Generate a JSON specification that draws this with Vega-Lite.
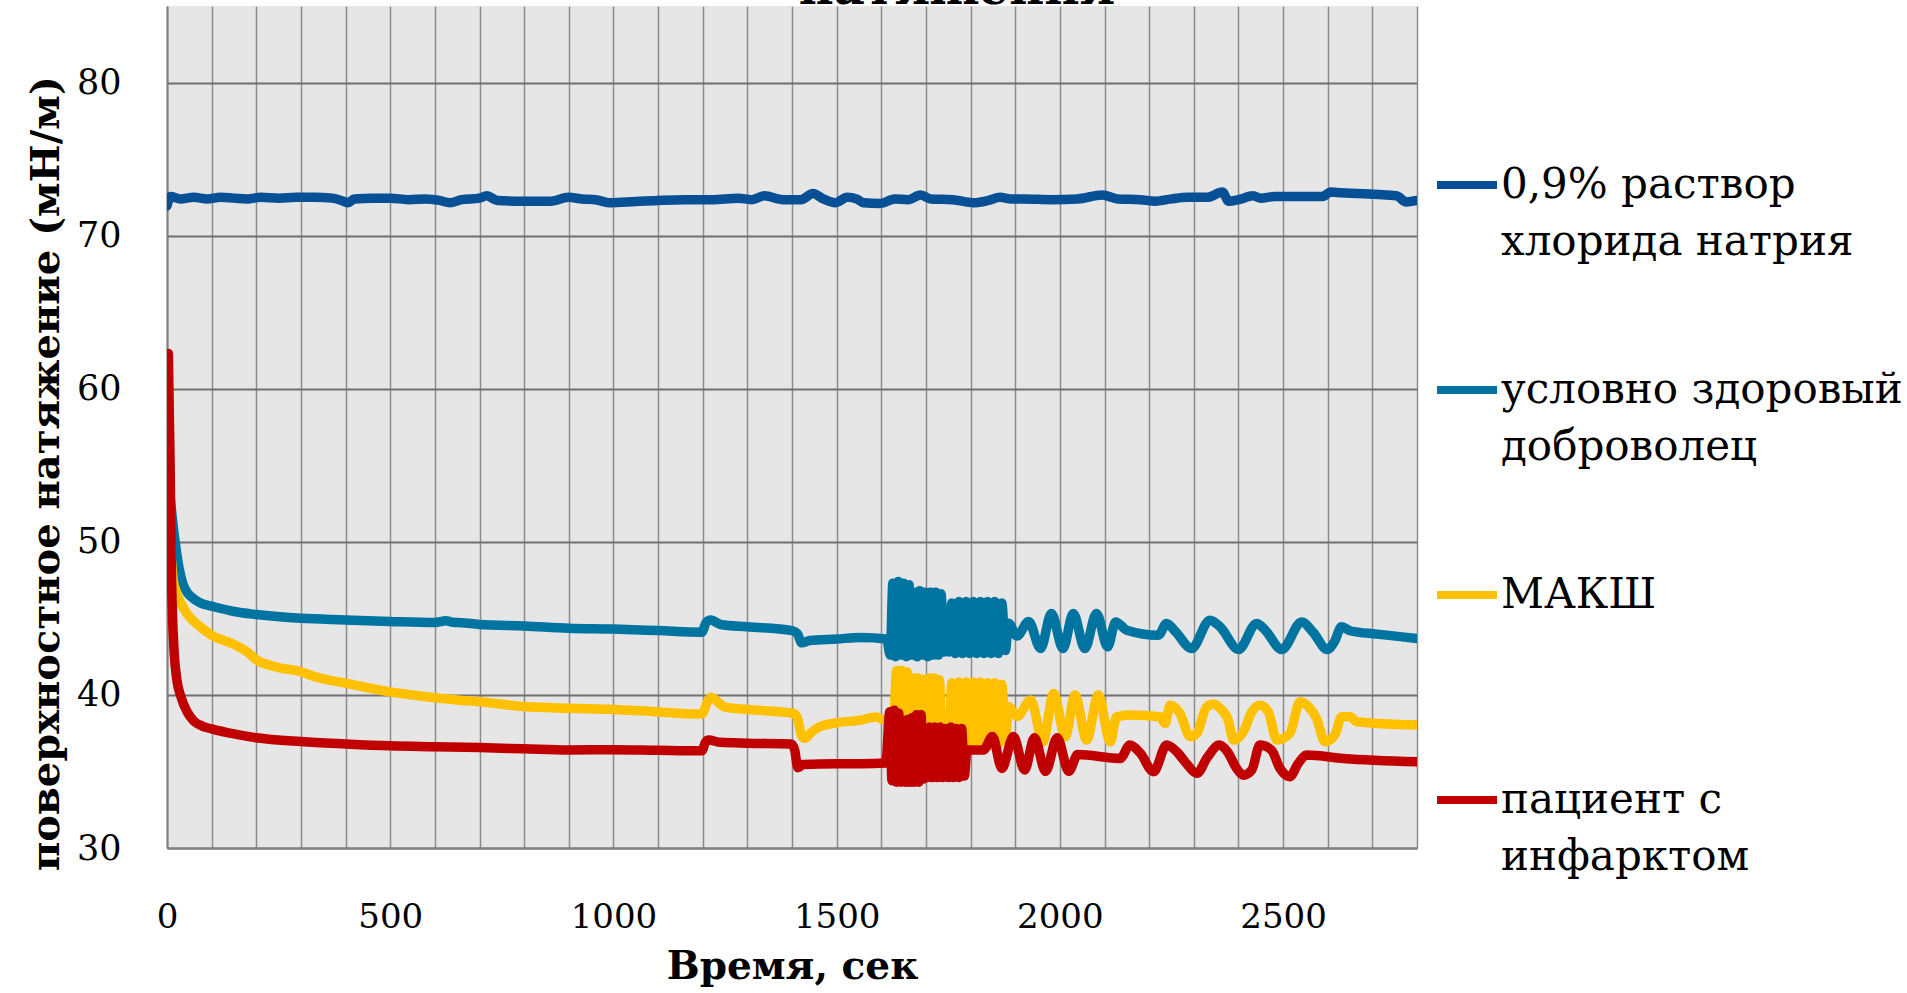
{
  "$schema": "https://vega.github.io/schema/vega-lite/v6.json",
  "width": 1250,
  "height": 842,
  "autosize": {"type": "none"},
  "padding": {"left": 167, "top": 6, "right": 490, "bottom": 145},
  "background": "white",
  "title": {"text": "натяжения", "font": "DejaVu Serif", "fontSize": 48, "fontWeight": "bold", "color": "black", "anchor": "middle", "frame": "group", "dx": 165, "offset": -8},
  "config": {
    "view": {"fill": "#E6E6E6", "stroke": null},
    "font": "DejaVu Serif",
    "style": {"guide-label": {"lineHeight": 57}}
  },
  "data": {"values": [
    {"s":"NaCl","t":0,"v":71.95},{"s":"NaCl","t":8,"v":72.55},{"s":"NaCl","t":30,"v":72.4},{"s":"NaCl","t":60,"v":72.5},{"s":"NaCl","t":90,"v":72.4},{"s":"NaCl","t":120,"v":72.5},{"s":"NaCl","t":150,"v":72.45},{"s":"NaCl","t":180,"v":72.4},{"s":"NaCl","t":210,"v":72.5},{"s":"NaCl","t":250,"v":72.45},{"s":"NaCl","t":290,"v":72.5},{"s":"NaCl","t":330,"v":72.5},{"s":"NaCl","t":370,"v":72.45},{"s":"NaCl","t":395,"v":72.25},{"s":"NaCl","t":405,"v":72.15},{"s":"NaCl","t":420,"v":72.4},{"s":"NaCl","t":460,"v":72.45},{"s":"NaCl","t":500,"v":72.45},{"s":"NaCl","t":540,"v":72.35},{"s":"NaCl","t":580,"v":72.4},{"s":"NaCl","t":610,"v":72.3},{"s":"NaCl","t":634,"v":72.15},{"s":"NaCl","t":660,"v":72.35},{"s":"NaCl","t":700,"v":72.45},{"s":"NaCl","t":716,"v":72.6},{"s":"NaCl","t":740,"v":72.3},{"s":"NaCl","t":800,"v":72.25},{"s":"NaCl","t":860,"v":72.25},{"s":"NaCl","t":899,"v":72.5},{"s":"NaCl","t":930,"v":72.4},{"s":"NaCl","t":960,"v":72.35},{"s":"NaCl","t":990,"v":72.15},{"s":"NaCl","t":1030,"v":72.2},{"s":"NaCl","t":1100,"v":72.3},{"s":"NaCl","t":1160,"v":72.35},{"s":"NaCl","t":1220,"v":72.35},{"s":"NaCl","t":1280,"v":72.45},{"s":"NaCl","t":1310,"v":72.35},{"s":"NaCl","t":1338,"v":72.6},{"s":"NaCl","t":1380,"v":72.35},{"s":"NaCl","t":1420,"v":72.35},{"s":"NaCl","t":1447,"v":72.75},{"s":"NaCl","t":1470,"v":72.4},{"s":"NaCl","t":1497,"v":72.15},{"s":"NaCl","t":1524,"v":72.5},{"s":"NaCl","t":1545,"v":72.4},{"s":"NaCl","t":1560,"v":72.15},{"s":"NaCl","t":1597,"v":72.1},{"s":"NaCl","t":1630,"v":72.4},{"s":"NaCl","t":1660,"v":72.35},{"s":"NaCl","t":1688,"v":72.65},{"s":"NaCl","t":1710,"v":72.4},{"s":"NaCl","t":1760,"v":72.35},{"s":"NaCl","t":1807,"v":72.15},{"s":"NaCl","t":1840,"v":72.3},{"s":"NaCl","t":1866,"v":72.5},{"s":"NaCl","t":1890,"v":72.4},{"s":"NaCl","t":1921,"v":72.4},{"s":"NaCl","t":1980,"v":72.35},{"s":"NaCl","t":2040,"v":72.4},{"s":"NaCl","t":2095,"v":72.65},{"s":"NaCl","t":2130,"v":72.4},{"s":"NaCl","t":2180,"v":72.35},{"s":"NaCl","t":2214,"v":72.25},{"s":"NaCl","t":2250,"v":72.4},{"s":"NaCl","t":2287,"v":72.5},{"s":"NaCl","t":2330,"v":72.5},{"s":"NaCl","t":2364,"v":72.85},{"s":"NaCl","t":2378,"v":72.25},{"s":"NaCl","t":2400,"v":72.35},{"s":"NaCl","t":2433,"v":72.6},{"s":"NaCl","t":2450,"v":72.45},{"s":"NaCl","t":2480,"v":72.55},{"s":"NaCl","t":2588,"v":72.55},{"s":"NaCl","t":2607,"v":72.85},{"s":"NaCl","t":2630,"v":72.8},{"s":"NaCl","t":2754,"v":72.6},{"s":"NaCl","t":2776,"v":72.2},{"s":"NaCl","t":2800,"v":72.3},

    {"s":"доброволец","t":0,"v":56},{"s":"доброволец","t":7,"v":53},{"s":"доброволец","t":14,"v":51},{"s":"доброволец","t":20,"v":49.6},{"s":"доброволец","t":27,"v":48.3},{"s":"доброволец","t":35,"v":47.3},{"s":"доброволец","t":45,"v":46.7},{"s":"доброволец","t":55,"v":46.4},{"s":"доброволец","t":75,"v":46.0},{"s":"доброволец","t":100,"v":45.8},{"s":"доброволец","t":150,"v":45.45},{"s":"доброволец","t":200,"v":45.25},{"s":"доброволец","t":300,"v":45.0},{"s":"доброволец","t":400,"v":44.9},{"s":"доброволец","t":500,"v":44.8},{"s":"доброволец","t":600,"v":44.73},{"s":"доброволец","t":625,"v":44.85},{"s":"доброволец","t":640,"v":44.75},{"s":"доброволец","t":660,"v":44.72},{"s":"доброволец","t":700,"v":44.6},{"s":"доброволец","t":800,"v":44.5},{"s":"доброволец","t":900,"v":44.36},{"s":"доброволец","t":1000,"v":44.3},{"s":"доброволец","t":1100,"v":44.2},{"s":"доброволец","t":1198,"v":44.1},{"s":"доброволец","t":1208,"v":44.75},{"s":"доброволец","t":1218,"v":44.9},{"s":"доброволец","t":1240,"v":44.6},{"s":"доброволец","t":1300,"v":44.45},{"s":"доброволец","t":1400,"v":44.2},{"s":"доброволец","t":1412,"v":44.0},{"s":"доброволец","t":1422,"v":43.4},{"s":"доброволец","t":1440,"v":43.55},{"s":"доброволец","t":1500,"v":43.65},{"s":"доброволец","t":1554,"v":43.75},{"s":"доброволец","t":1612,"v":43.65},
    {"s":"доброволец","t":1620,"v":42.6},{"s":"доброволец","t":1626,"v":47.3},{"s":"доброволец","t":1632,"v":42.5},{"s":"доброволец","t":1638,"v":47.4},{"s":"доброволец","t":1644,"v":42.6},{"s":"доброволец","t":1650,"v":47.3},{"s":"доброволец","t":1656,"v":42.5},{"s":"доброволец","t":1662,"v":47.2},{"s":"доброволец","t":1668,"v":42.6},{"s":"доброволец","t":1674,"v":46.7},{"s":"доброволец","t":1680,"v":42.5},{"s":"доброволец","t":1686,"v":46.8},{"s":"доброволец","t":1692,"v":42.6},{"s":"доброволец","t":1698,"v":46.7},{"s":"доброволец","t":1704,"v":42.5},{"s":"доброволец","t":1710,"v":46.7},{"s":"доброволец","t":1716,"v":42.6},{"s":"доброволец","t":1722,"v":46.7},{"s":"доброволец","t":1728,"v":42.6},{"s":"доброволец","t":1734,"v":46.6},{"s":"доброволец","t":1740,"v":42.8},{"s":"доброволец","t":1746,"v":44.3},{"s":"доброволец","t":1752,"v":42.8},{"s":"доброволец","t":1758,"v":46.0},{"s":"доброволец","t":1766,"v":42.7},{"s":"доброволец","t":1774,"v":46.1},{"s":"доброволец","t":1782,"v":42.7},{"s":"доброволец","t":1790,"v":46.1},{"s":"доброволец","t":1798,"v":42.7},{"s":"доброволец","t":1806,"v":46.1},{"s":"доброволец","t":1814,"v":42.7},{"s":"доброволец","t":1822,"v":46.1},{"s":"доброволец","t":1830,"v":42.7},{"s":"доброволец","t":1838,"v":46.1},{"s":"доброволец","t":1846,"v":42.7},{"s":"доброволец","t":1854,"v":46.1},{"s":"доброволец","t":1862,"v":42.7},{"s":"доброволец","t":1870,"v":46.0},{"s":"доброволец","t":1878,"v":42.9},
    {"s":"доброволец","t":1885,"v":44.68},{"s":"доброволец","t":1904,"v":43.85},{"s":"доброволец","t":1930,"v":44.79},{"s":"доброволец","t":1957,"v":43.03},{"s":"доброволец","t":1981,"v":45.32},{"s":"доброволец","t":2007,"v":43.03},{"s":"доброволец","t":2030,"v":45.32},{"s":"доброволец","t":2056,"v":43.03},{"s":"доброволец","t":2082,"v":45.32},{"s":"доброволец","t":2107,"v":43.14},{"s":"доброволец","t":2125,"v":44.77},{"s":"доброволец","t":2150,"v":44.23},{"s":"доброволец","t":2221,"v":43.9},{"s":"доброволец","t":2239,"v":44.67},{"s":"доброволец","t":2260,"v":44.1},{"s":"доброволец","t":2295,"v":43.03},{"s":"доброволец","t":2336,"v":44.88},{"s":"доброволец","t":2359,"v":44.45},{"s":"доброволец","t":2400,"v":42.97},{"s":"доброволец","t":2441,"v":44.67},{"s":"доброволец","t":2460,"v":44.23},{"s":"доброволец","t":2497,"v":42.97},{"s":"доброволец","t":2542,"v":44.77},{"s":"доброволец","t":2567,"v":44.1},{"s":"доброволец","t":2599,"v":42.97},{"s":"доброволец","t":2615,"v":43.47},{"s":"доброволец","t":2631,"v":44.45},{"s":"доброволец","t":2650,"v":44.19},{"s":"доброволец","t":2710,"v":43.97},{"s":"доброволец","t":2800,"v":43.69},

    {"s":"МАКШ","t":0,"v":54},{"s":"МАКШ","t":7,"v":50},{"s":"МАКШ","t":14,"v":47.5},{"s":"МАКШ","t":20,"v":46.8},{"s":"МАКШ","t":31,"v":46.0},{"s":"МАКШ","t":45,"v":45.3},{"s":"МАКШ","t":60,"v":44.8},{"s":"МАКШ","t":72,"v":44.5},{"s":"МАКШ","t":100,"v":43.9},{"s":"МАКШ","t":150,"v":43.3},{"s":"МАКШ","t":180,"v":42.8},{"s":"МАКШ","t":200,"v":42.3},{"s":"МАКШ","t":240,"v":41.85},{"s":"МАКШ","t":301,"v":41.5},{"s":"МАКШ","t":330,"v":41.2},{"s":"МАКШ","t":400,"v":40.77},{"s":"МАКШ","t":500,"v":40.2},{"s":"МАКШ","t":576,"v":39.9},{"s":"МАКШ","t":650,"v":39.67},{"s":"МАКШ","t":700,"v":39.56},{"s":"МАКШ","t":800,"v":39.24},{"s":"МАКШ","t":900,"v":39.13},{"s":"МАКШ","t":1000,"v":39.05},{"s":"МАКШ","t":1063,"v":38.96},{"s":"МАКШ","t":1198,"v":38.75},{"s":"МАКШ","t":1210,"v":39.5},{"s":"МАКШ","t":1218,"v":39.84},{"s":"МАКШ","t":1250,"v":39.2},{"s":"МАКШ","t":1300,"v":39.05},{"s":"МАКШ","t":1403,"v":38.8},{"s":"МАКШ","t":1412,"v":38.5},{"s":"МАКШ","t":1422,"v":37.3},{"s":"МАКШ","t":1429,"v":37.16},{"s":"МАКШ","t":1445,"v":37.6},{"s":"МАКШ","t":1461,"v":37.9},{"s":"МАКШ","t":1500,"v":38.18},{"s":"МАКШ","t":1554,"v":38.35},{"s":"МАКШ","t":1587,"v":38.55},{"s":"МАКШ","t":1613,"v":38.3},{"s":"МАКШ","t":1628,"v":38.4},
    {"s":"МАКШ","t":1634,"v":41.6},{"s":"МАКШ","t":1640,"v":37.2},{"s":"МАКШ","t":1646,"v":41.6},{"s":"МАКШ","t":1652,"v":37.2},{"s":"МАКШ","t":1658,"v":41.5},{"s":"МАКШ","t":1664,"v":37.2},{"s":"МАКШ","t":1670,"v":41.1},{"s":"МАКШ","t":1676,"v":37.2},{"s":"МАКШ","t":1682,"v":41.1},{"s":"МАКШ","t":1688,"v":37.2},{"s":"МАКШ","t":1694,"v":41.0},{"s":"МАКШ","t":1700,"v":37.2},{"s":"МАКШ","t":1706,"v":41.1},{"s":"МАКШ","t":1712,"v":37.2},{"s":"МАКШ","t":1718,"v":41.1},{"s":"МАКШ","t":1724,"v":37.2},{"s":"МАКШ","t":1730,"v":41.0},{"s":"МАКШ","t":1736,"v":37.3},{"s":"МАКШ","t":1746,"v":38.6},{"s":"МАКШ","t":1752,"v":37.0},{"s":"МАКШ","t":1758,"v":40.8},{"s":"МАКШ","t":1766,"v":36.7},{"s":"МАКШ","t":1774,"v":40.85},{"s":"МАКШ","t":1782,"v":36.7},{"s":"МАКШ","t":1790,"v":40.85},{"s":"МАКШ","t":1798,"v":36.7},{"s":"МАКШ","t":1806,"v":40.85},{"s":"МАКШ","t":1814,"v":36.7},{"s":"МАКШ","t":1822,"v":40.85},{"s":"МАКШ","t":1830,"v":36.7},{"s":"МАКШ","t":1838,"v":40.8},{"s":"МАКШ","t":1846,"v":36.7},{"s":"МАКШ","t":1854,"v":40.8},{"s":"МАКШ","t":1862,"v":36.7},{"s":"МАКШ","t":1870,"v":40.7},{"s":"МАКШ","t":1878,"v":37.0},
    {"s":"МАКШ","t":1885,"v":39.24},{"s":"МАКШ","t":1904,"v":38.6},{"s":"МАКШ","t":1935,"v":39.66},{"s":"МАКШ","t":1962,"v":36.94},{"s":"МАКШ","t":1986,"v":40.1},{"s":"МАКШ","t":2012,"v":37.27},{"s":"МАКШ","t":2034,"v":39.99},{"s":"МАКШ","t":2060,"v":37.05},{"s":"МАКШ","t":2086,"v":39.99},{"s":"МАКШ","t":2113,"v":36.94},{"s":"МАКШ","t":2127,"v":38.57},{"s":"МАКШ","t":2157,"v":38.68},{"s":"МАКШ","t":2224,"v":38.57},{"s":"МАКШ","t":2236,"v":38.14},{"s":"МАКШ","t":2247,"v":39.33},{"s":"МАКШ","t":2269,"v":38.79},{"s":"МАКШ","t":2292,"v":37.27},{"s":"МАКШ","t":2307,"v":37.5},{"s":"МАКШ","t":2329,"v":39.22},{"s":"МАКШ","t":2345,"v":39.4},{"s":"МАКШ","t":2359,"v":39.12},{"s":"МАКШ","t":2377,"v":38.36},{"s":"МАКШ","t":2389,"v":37.05},{"s":"МАКШ","t":2411,"v":37.59},{"s":"МАКШ","t":2430,"v":38.9},{"s":"МАКШ","t":2448,"v":39.33},{"s":"МАКШ","t":2467,"v":38.9},{"s":"МАКШ","t":2486,"v":37.05},{"s":"МАКШ","t":2515,"v":37.48},{"s":"МАКШ","t":2538,"v":39.55},{"s":"МАКШ","t":2560,"v":39.12},{"s":"МАКШ","t":2575,"v":38.46},{"s":"МАКШ","t":2594,"v":36.94},{"s":"МАКШ","t":2616,"v":37.38},{"s":"МАКШ","t":2631,"v":38.57},{"s":"МАКШ","t":2650,"v":38.57},{"s":"МАКШ","t":2665,"v":38.25},{"s":"МАКШ","t":2800,"v":38.03},

    {"s":"инфаркт","t":3,"v":62.3},{"s":"инфаркт","t":7,"v":55},{"s":"инфаркт","t":9,"v":49.5},{"s":"инфаркт","t":12,"v":45.5},{"s":"инфаркт","t":16,"v":42.8},{"s":"инфаркт","t":22,"v":41.0},{"s":"инфаркт","t":31,"v":39.9},{"s":"инфаркт","t":45,"v":38.9},{"s":"инфаркт","t":60,"v":38.3},{"s":"инфаркт","t":80,"v":37.95},{"s":"инфаркт","t":100,"v":37.78},{"s":"инфаркт","t":150,"v":37.45},{"s":"инфаркт","t":200,"v":37.2},{"s":"инфаркт","t":300,"v":36.95},{"s":"инфаркт","t":400,"v":36.8},{"s":"инфаркт","t":500,"v":36.68},{"s":"инфаркт","t":600,"v":36.62},{"s":"инфаркт","t":700,"v":36.56},{"s":"инфаркт","t":800,"v":36.48},{"s":"инфаркт","t":900,"v":36.4},{"s":"инфаркт","t":1000,"v":36.42},{"s":"инфаркт","t":1100,"v":36.38},{"s":"инфаркт","t":1198,"v":36.35},{"s":"инфаркт","t":1206,"v":36.9},{"s":"инфаркт","t":1213,"v":37.05},{"s":"инфаркт","t":1240,"v":36.9},{"s":"инфаркт","t":1300,"v":36.85},{"s":"инфаркт","t":1398,"v":36.8},{"s":"инфаркт","t":1406,"v":36.4},{"s":"инфаркт","t":1413,"v":35.25},{"s":"инфаркт","t":1425,"v":35.45},{"s":"инфаркт","t":1500,"v":35.5},{"s":"инфаркт","t":1554,"v":35.5},{"s":"инфаркт","t":1610,"v":35.55},
    {"s":"инфаркт","t":1619,"v":38.9},{"s":"инфаркт","t":1624,"v":34.4},{"s":"инфаркт","t":1629,"v":39.0},{"s":"инфаркт","t":1634,"v":34.3},{"s":"инфаркт","t":1639,"v":38.8},{"s":"инфаркт","t":1644,"v":34.3},{"s":"инфаркт","t":1649,"v":38.2},{"s":"инфаркт","t":1654,"v":34.3},{"s":"инфаркт","t":1659,"v":38.4},{"s":"инфаркт","t":1664,"v":34.3},{"s":"инфаркт","t":1669,"v":38.5},{"s":"инфаркт","t":1674,"v":34.3},{"s":"инфаркт","t":1679,"v":38.7},{"s":"инфаркт","t":1684,"v":34.3},{"s":"инфаркт","t":1689,"v":38.7},{"s":"инфаркт","t":1694,"v":34.5},{"s":"инфаркт","t":1698,"v":36.0},{"s":"инфаркт","t":1703,"v":34.6},{"s":"инфаркт","t":1708,"v":37.9},{"s":"инфаркт","t":1714,"v":34.6},{"s":"инфаркт","t":1720,"v":37.9},{"s":"инфаркт","t":1726,"v":34.6},{"s":"инфаркт","t":1732,"v":37.9},{"s":"инфаркт","t":1738,"v":34.6},{"s":"инфаркт","t":1744,"v":37.8},{"s":"инфаркт","t":1750,"v":34.6},{"s":"инфаркт","t":1756,"v":37.9},{"s":"инфаркт","t":1762,"v":34.6},{"s":"инфаркт","t":1768,"v":37.8},{"s":"инфаркт","t":1774,"v":34.6},{"s":"инфаркт","t":1780,"v":37.8},{"s":"инфаркт","t":1786,"v":34.7},{"s":"инфаркт","t":1792,"v":36.4},
    {"s":"инфаркт","t":1829,"v":36.4},{"s":"инфаркт","t":1849,"v":37.28},{"s":"инфаркт","t":1870,"v":35.2},{"s":"инфаркт","t":1896,"v":37.28},{"s":"инфаркт","t":1921,"v":35.1},{"s":"инфаркт","t":1943,"v":37.2},{"s":"инфаркт","t":1968,"v":35.0},{"s":"инфаркт","t":1994,"v":37.2},{"s":"инфаркт","t":2020,"v":35.0},{"s":"инфаркт","t":2040,"v":36.1},{"s":"инфаркт","t":2135,"v":35.85},{"s":"инфаркт","t":2157,"v":36.72},{"s":"инфаркт","t":2180,"v":36.2},{"s":"инфаркт","t":2210,"v":34.98},{"s":"инфаркт","t":2239,"v":36.72},{"s":"инфаркт","t":2262,"v":36.29},{"s":"инфаркт","t":2284,"v":35.5},{"s":"инфаркт","t":2307,"v":34.87},{"s":"инфаркт","t":2330,"v":35.9},{"s":"инфаркт","t":2357,"v":36.72},{"s":"инфаркт","t":2375,"v":36.3},{"s":"инфаркт","t":2396,"v":35.2},{"s":"инфаркт","t":2411,"v":34.76},{"s":"инфаркт","t":2430,"v":35.1},{"s":"инфаркт","t":2448,"v":36.72},{"s":"инфаркт","t":2474,"v":36.4},{"s":"инфаркт","t":2493,"v":35.2},{"s":"инфаркт","t":2515,"v":34.66},{"s":"инфаркт","t":2534,"v":35.53},{"s":"инфаркт","t":2553,"v":36.07},{"s":"инфаркт","t":2635,"v":35.85},{"s":"инфаркт","t":2800,"v":35.63}
  ]},
  "mark": {"type": "line", "strokeWidth": 9.5, "interpolate": "monotone", "strokeCap": "round", "strokeJoin": "round", "clip": true},
  "encoding": {
    "x": {"field": "t", "type": "quantitative", "scale": {"domain": [0, 2800], "nice": false},
      "axis": {"title": "Время, сек", "values": [0,100,200,300,400,500,600,700,800,900,1000,1100,1200,1300,1400,1500,1600,1700,1800,1900,2000,2100,2200,2300,2400,2500,2600,2700,2800],
        "labelExpr": "datum.value % 500 === 0 ? datum.label : ''", "format": "d", "labelFlush": false, "labelOverlap": false, "ticks": false,
        "domainColor": "#808080", "domainWidth": 2, "gridColor": "#8c8c8c", "gridWidth": 1.5,
        "labelFont": "DejaVu Serif", "labelFontSize": 34, "labelColor": "black", "labelPadding": 52,
        "titleFont": "DejaVu Serif", "titleFontSize": 39, "titleFontWeight": "bold", "titleColor": "black", "titleBaseline": "alphabetic", "titleY": 130}},
    "y": {"field": "v", "type": "quantitative", "scale": {"domain": [30, 85], "nice": false, "zero": false},
      "axis": {"title": "поверхностное натяжение (мН/м)", "values": [30,40,50,60,70,80], "ticks": false,
        "domainColor": "#808080", "domainWidth": 2, "gridColor": "#707070", "gridWidth": 2,
        "labelFont": "DejaVu Serif", "labelFontSize": 35, "labelColor": "black", "labelPadding": 46,
        "titleFont": "DejaVu Serif", "titleFontSize": 40, "titleFontWeight": "bold", "titleColor": "black", "titleX": -121, "titleY": 467, "titleBaseline": "middle"}},
    "color": {"field": "s", "type": "nominal",
      "scale": {"domain": ["NaCl", "доброволец", "МАКШ", "инфаркт"], "range": ["#085096", "#0074A0", "#FFC000", "#C00000"]},
      "legend": {"title": null, "orient": "none", "legendX": 1266, "legendY": 145, "padding": 0,
        "symbolType": "stroke", "symbolStrokeWidth": 8, "symbolSize": 3600, "labelOffset": 0,
        "labelFont": "DejaVu Serif", "labelFontSize": 42, "labelColor": "black", "labelLimit": 700, "labelBaseline": "middle", "rowPadding": 93,
        "labelExpr": "datum.value == 'NaCl' ? ['0,9% раствор', 'хлорида натрия'] : datum.value == 'доброволец' ? ['условно здоровый', 'доброволец'] : datum.value == 'МАКШ' ? ['МАКШ', ''] : ['пациент с', 'инфарктом']"}}
  }
}
